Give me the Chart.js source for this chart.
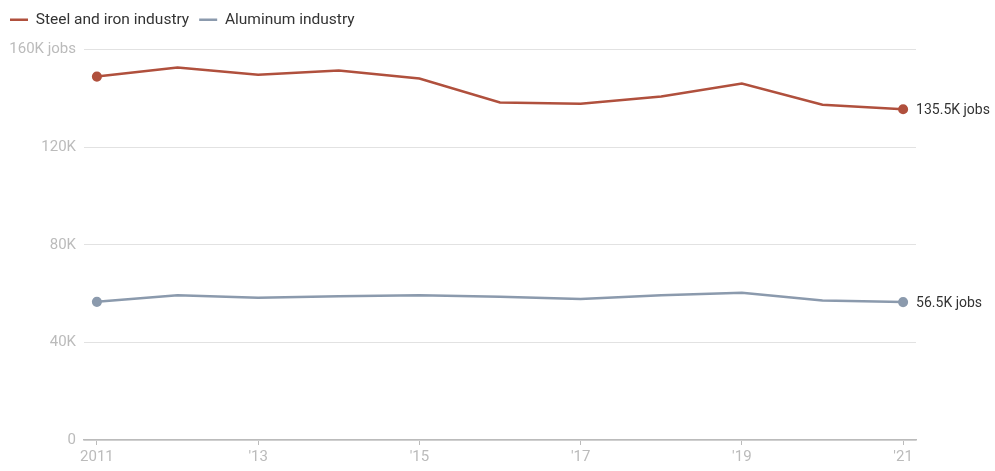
<!DOCTYPE html>
<html>
<head>
<meta charset="utf-8">
<script src="https://cdn.jsdelivr.net/npm/chart.js@4.4.1/dist/chart.umd.min.js"></script>
<style>
  html, body { margin: 0; padding: 0; background: #fff; }
  #wrap { width: 995px; height: 471px; position: relative; }
</style>
</head>
<body>
<div id="wrap"><canvas id="myChart"></canvas></div>
<script>
// data (thousands of jobs)
const years = [2011, 2012, 2013, 2014, 2015, 2016, 2017, 2018, 2019, 2020, 2021];
const steelJobs = [148.9, 152.6, 149.7, 151.4, 148.1, 138.3, 137.8, 140.7, 146.1, 137.4, 135.5];
const aluminumJobs = [56.6, 59.3, 58.3, 58.9, 59.3, 58.7, 57.8, 59.3, 60.3, 57.2, 56.5];
const xTicks = [2011, 2013, 2015, 2017, 2019, 2021];
const yTicks = [0, 40, 80, 120, 160];

const steelColor = '#b0503d';
const aluColor = '#8b9aad';
const fontFamily = 'Roboto, "Noto Sans", sans-serif';

const toPoints = arr => arr.map((v, i) => ({ x: years[i], y: v }));
const endDots = ctx => (ctx.dataIndex === 0 || ctx.dataIndex === years.length - 1) ? 3.8 : 0;

// extra room under the legend
const legendSpace = {
  id: 'legendSpace',
  beforeInit(chart) {
    const fit = chart.legend.fit;
    chart.legend.fit = function () {
      fit.call(this);
      this.height += 12;
    };
  }
};

// labels at the end of each line
const endLabels = {
  id: 'endLabels',
  afterDatasetsDraw(chart) {
    const c = chart.ctx;
    c.save();
    c.font = '14px ' + fontFamily;
    c.fillStyle = '#333';
    c.textBaseline = 'middle';
    chart.data.datasets.forEach((ds, i) => {
      const meta = chart.getDatasetMeta(i);
      const pt = meta.data[meta.data.length - 1];
      const val = ds.data[ds.data.length - 1].y;
      c.fillText(val.toFixed(1) + 'K jobs', pt.x + 13, pt.y + 1);
    });
    c.restore();
  }
};

const ctx = document.getElementById('myChart').getContext('2d');
const myChart = new Chart(ctx, {
  type: 'line',
  data: {
    datasets: [{
      label: 'Steel and iron industry',
      data: toPoints(steelJobs),
      borderColor: steelColor,
      backgroundColor: steelColor,
      borderWidth: 2.5,
      pointRadius: endDots,
      pointHoverRadius: endDots,
      tension: 0
    }, {
      label: 'Aluminum industry',
      data: toPoints(aluminumJobs),
      borderColor: aluColor,
      backgroundColor: aluColor,
      borderWidth: 2.5,
      pointRadius: endDots,
      pointHoverRadius: endDots,
      tension: 0
    }]
  },
  options: {
    responsive: true,
    maintainAspectRatio: false,
    animation: false,
    layout: { padding: { left: 0, right: 79, top: 2, bottom: 2 } },
    plugins: {
      tooltip: { enabled: false },
      legend: {
        position: 'top',
        align: 'start',
        labels: {
          usePointStyle: true,
          pointStyle: 'line',
          pointStyleWidth: 18,
          color: '#333',
          font: { family: fontFamily, size: 15.5 },
          padding: 10
        }
      }
    },
    scales: {
      x: {
        type: 'linear',
        min: 2010.84,
        max: 2021.16,
        afterBuildTicks: axis => { axis.ticks = xTicks.map(v => ({ value: v })); },
        grid: { drawOnChartArea: false, drawTicks: true, tickLength: 5, color: '#bbb' },
        border: { color: '#bbb', width: 1.5 },
        ticks: {
          color: '#bbb',
          font: { family: fontFamily, size: 15 },
          padding: 3,
          maxRotation: 0,
          autoSkip: false,
          callback: v => v === 2011 ? '2011' : "'" + String(v).slice(2)
        }
      },
      y: {
        min: 0,
        max: 160,
        afterBuildTicks: axis => { axis.ticks = yTicks.map(v => ({ value: v })); },
        afterFit: axis => { axis.width = 84; },
        grid: { color: '#e2e2e2', drawTicks: false },
        border: { display: false },
        ticks: {
          color: '#bbb',
          font: { family: fontFamily, size: 15 },
          padding: 8,
          callback: v => v === 0 ? '0' : (v === 160 ? '160K jobs' : v + 'K')
        }
      }
    }
  },
  plugins: [legendSpace, endLabels]
});
</script>
</body>
</html>
